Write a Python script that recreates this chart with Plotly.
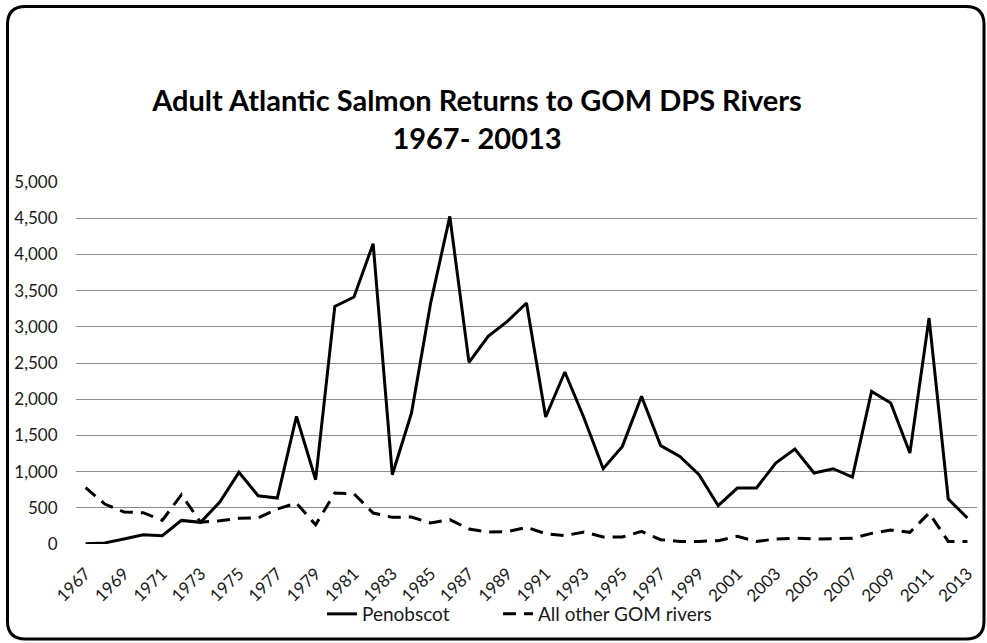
import plotly.graph_objects as go

# Adult Atlantic salmon returns, 1967-2013
years = list(range(1967, 2014))

penobscot = [
    5, 15, 70, 128, 115, 326, 299, 580, 990, 667,
    635, 1763, 888, 3282, 3411, 4148, 957, 1809, 3329, 4525,
    2509, 2868, 3075, 3329, 1754, 2376, 1740, 1040, 1348, 2039,
    1358, 1210, 957, 529, 773, 773, 1119, 1312, 981, 1040,
    925, 2108, 1947, 1257, 3121, 622, 359,
]

other_gom = [
    780, 552, 442, 432, 326, 681, 300, 322, 355, 360,
    483, 566, 266, 704, 694, 428, 368, 373, 290, 336,
    207, 166, 170, 230, 142, 115, 166, 97, 97, 174,
    59, 36, 36, 46, 105, 36, 69, 80, 69, 78,
    78, 147, 193, 161, 428, 36, 36,
]

y_ticks = [0, 500, 1000, 1500, 2000, 2500, 3000, 3500, 4000, 4500, 5000]

FONT = "Lato, 'Open Sans', sans-serif"
W, H = 987, 643
ML, MR, MT, MB = 76, 10, 182, 99
PW, PH = W - ML - MR, H - MT - MB


def px(x):
    return (x - ML) / PW


def py(y):
    return (H - MB - y) / PH


fig = go.Figure()
fig.add_trace(go.Scatter(
    x=years, y=penobscot, name="Penobscot", mode="lines",
    line=dict(color="black", width=3), legend="legend", showlegend=True,
))
fig.add_trace(go.Scatter(
    x=years, y=other_gom, name="All other GOM rivers", mode="lines",
    line=dict(color="black", width=3, dash="13px,8px"), legend="legend2",
    showlegend=True,
))

# rounded outer frame
l, t, r, b, rad = 7.5, 6.5, 984, 639, 18
path = (
    f"M {px(l + rad)},{py(t)} L {px(r - rad)},{py(t)} "
    f"Q {px(r)},{py(t)} {px(r)},{py(t + rad)} "
    f"L {px(r)},{py(b - rad)} Q {px(r)},{py(b)} {px(r - rad)},{py(b)} "
    f"L {px(l + rad)},{py(b)} Q {px(l)},{py(b)} {px(l)},{py(b - rad)} "
    f"L {px(l)},{py(t + rad)} Q {px(l)},{py(t)} {px(l + rad)},{py(t)} Z"
)

legend_style = dict(
    orientation="h", xanchor="left", yanchor="middle", y=py(614),
    font=dict(size=19, color="#1a1a1a"), bgcolor="rgba(0,0,0,0)",
)

fig.update_layout(
    width=W, height=H,
    margin=dict(l=ML, r=MR, t=MT, b=MB),
    paper_bgcolor="white", plot_bgcolor="white",
    showlegend=True,
    font=dict(family=FONT, size=17, color="#1a1a1a"),
    title=dict(
        text="<b>Adult Atlantic Salmon Returns to GOM DPS Rivers<br>1967- 20013</b>",
        font=dict(family=FONT, size=29, color="black"),
        x=477 / W, xanchor="center", xref="container",
        y=1 - 111 / H, yanchor="middle", yref="container",
    ),
    xaxis=dict(
        range=[1966.5, 2013.5], tick0=1967, dtick=2, tickformat="d",
        tickangle=-45, showgrid=False, zeroline=False, showline=False,
        ticks="outside", ticklen=12, tickcolor="rgba(0,0,0,0)",
        tickfont=dict(size=17, color="#1a1a1a"),
    ),
    yaxis=dict(
        range=[0, 5000], tickvals=y_ticks, tickformat=",d",
        showgrid=True, gridcolor="#8c8c8c", gridwidth=1,
        zeroline=False, showline=False,
        ticks="outside", ticklen=14, tickcolor="rgba(0,0,0,0)",
        tickfont=dict(size=17, color="#1a1a1a"),
    ),
    legend=dict(x=px(322), **legend_style),
    legend2=dict(x=px(498), **legend_style),
    shapes=[dict(
        type="path", path=path, xref="paper", yref="paper",
        line=dict(color="black", width=3), layer="above",
    )],
    hovermode=False,
)

fig.write_html("out.html")
